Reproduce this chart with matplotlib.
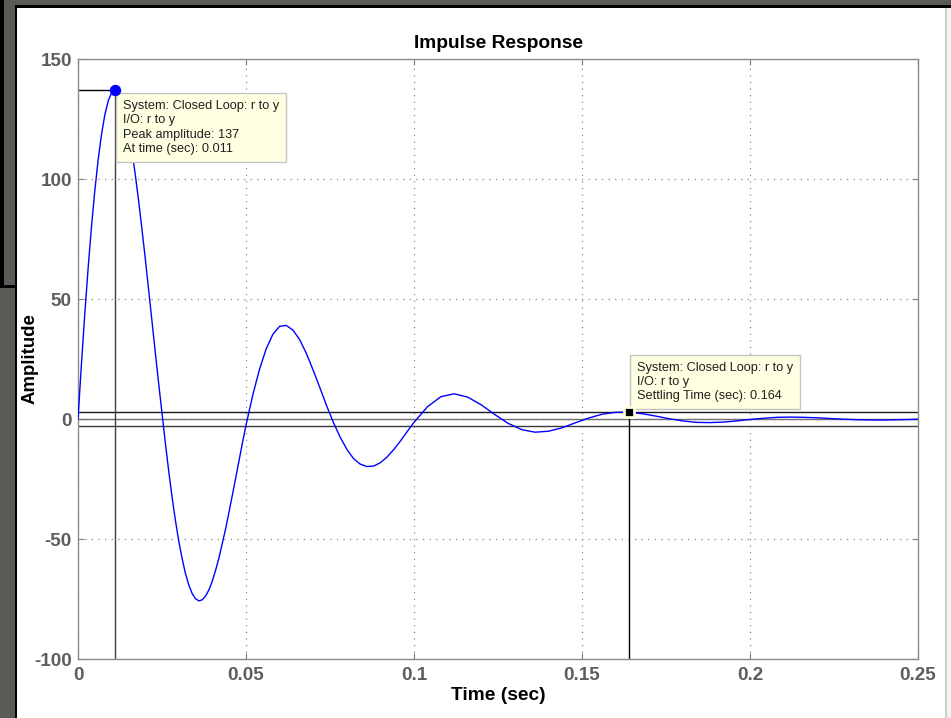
import matplotlib
matplotlib.use("Agg")

import matplotlib.pyplot as plt
from matplotlib.patches import Rectangle

plt.rcParams["font.family"] = ["Liberation Sans", "DejaVu Sans"]
plt.rcParams["axes.unicode_minus"] = False

# Impulse response of the closed loop r -> y
time_s = [
    0.000, 0.001, 0.002, 0.003, 0.004, 0.005, 0.006, 0.007, 0.008, 0.009,
    0.010, 0.011, 0.012, 0.013, 0.014, 0.015, 0.016, 0.017, 0.018, 0.019,
    0.020, 0.021, 0.022, 0.023, 0.024, 0.025, 0.026, 0.027, 0.028, 0.029,
    0.030, 0.031, 0.032, 0.033, 0.034, 0.035, 0.036, 0.037, 0.038, 0.039,
    0.040, 0.041, 0.042, 0.043, 0.044, 0.045, 0.046, 0.047, 0.048, 0.049,
    0.050, 0.052, 0.054, 0.056, 0.058, 0.060, 0.062, 0.064, 0.066, 0.068,
    0.070, 0.072, 0.074, 0.076, 0.078, 0.080, 0.082, 0.084, 0.086, 0.088,
    0.090, 0.092, 0.094, 0.096, 0.098, 0.100, 0.104, 0.108, 0.112, 0.116,
    0.120, 0.124, 0.128, 0.132, 0.136, 0.140, 0.144, 0.148, 0.152, 0.156,
    0.160, 0.164, 0.168, 0.172, 0.176, 0.180, 0.184, 0.188, 0.192, 0.196,
    0.200, 0.204, 0.208, 0.212, 0.216, 0.220, 0.224, 0.228, 0.232, 0.236,
    0.240, 0.244, 0.248, 0.250,
]
amplitude = [
    0.0, 22.4, 43.4, 62.6, 79.9, 95.1, 108.0, 118.6, 126.8, 132.6,
    135.9, 137.0, 135.9, 132.6, 127.5, 120.6, 112.1, 102.3, 91.4, 79.5,
    67.1, 54.1, 41.0, 27.8, 14.9, 2.4, -10.0, -21.7, -32.6, -42.3,
    -51.0, -58.2, -64.5, -69.2, -72.8, -74.9, -75.8, -75.3, -73.7, -71.1,
    -67.4, -62.8, -57.6, -51.5, -45.3, -38.4, -31.3, -24.1, -16.8, -9.5,
    -2.6, 9.9, 20.6, 29.2, 35.3, 38.6, 39.0, 37.0, 33.0, 27.2,
    20.3, 13.0, 5.5, -1.4, -7.5, -12.6, -16.5, -18.8, -19.8, -19.6,
    -18.2, -15.8, -12.7, -9.1, -5.2, -1.4, 5.1, 9.3, 10.5, 9.1,
    5.9, 1.9, -1.8, -4.4, -5.5, -5.1, -3.7, -1.6, 0.4, 2.0,
    2.8, 2.8, 2.2, 1.2, 0.1, -0.8, -1.4, -1.5, -1.3, -0.8,
    -0.2, 0.3, 0.7, 0.8, 0.7, 0.5, 0.2, -0.1, -0.3, -0.4,
    -0.4, -0.3, -0.2, -0.1,
]

peak_time = 0.011
peak_amp = 137
settle_time = 0.164
settle_band = 2.74  # 2% of peak

x_ticks = [0, 0.05, 0.1, 0.15, 0.2, 0.25]
x_tick_labels = ["0", "0.05", "0.1", "0.15", "0.2", "0.25"]
y_ticks = [-100, -50, 0, 50, 100, 150]

W, H = 951, 718
BG = "#5a5a56"
TIP_FACE = "#ffffe1"
TIP_EDGE = "#c4c4c4"
LABEL_GRAY = "#5e5e5e"

fig = plt.figure(figsize=(W / 100, H / 100), dpi=100, facecolor=BG)


def px_box(x0, y0, x1, y1, color):
    """Filled rectangle given in pixel coords measured from the top-left."""
    fig.add_artist(Rectangle((x0 / W, 1 - y1 / H), (x1 - x0) / W, (y1 - y0) / H,
                             transform=fig.transFigure, facecolor=color,
                             edgecolor="none", zorder=0))


# window frame around the figure
px_box(17, 8, W, H, "white")
px_box(15, 5, W, 8, "black")
px_box(15, 5, 17, H, "black")
px_box(0, 0, 4, 288, "black")
px_box(0, 285, 15, 288, "black")
px_box(945, 8, 947, H, "#cfcfcf")
px_box(947, 8, W, H, "#f2f2f2")

ax = fig.add_axes([78 / W, 1 - 659 / H, 840 / W, 600 / H])
ax.set_facecolor("white")

# settling band and steady-state level
ax.axhline(settle_band, color="#1a1a1a", lw=1, zorder=2)
ax.axhline(0, color="#707070", lw=1, zorder=2)
ax.axhline(-settle_band, color="#3a3a3a", lw=1, zorder=2)

ax.plot(time_s, amplitude, color="#0000ff", lw=1, zorder=3)

# peak marker with guide lines
ax.plot([0, peak_time], [peak_amp, peak_amp], color="black", lw=1, zorder=2)
ax.plot([peak_time, peak_time], [-100, peak_amp], color="#404040", lw=1, zorder=2)
ax.plot([peak_time], [peak_amp], "o", color="#0000ff", ms=7.2, zorder=7)

# settling time marker
ax.plot([settle_time, settle_time], [-100, settle_band], color="black", lw=1, zorder=2)
ax.plot([settle_time], [settle_band], "s", mfc="black", mec=TIP_FACE, ms=7.5,
        mew=2, zorder=7)

tip_style = dict(boxstyle="square,pad=0.55", fc=TIP_FACE, ec=TIP_EDGE, lw=1)
ax.annotate("System: Closed Loop: r to y\nI/O: r to y\n"
            f"Peak amplitude: {peak_amp}\nAt time (sec): {peak_time}",
            xy=(peak_time, peak_amp), xytext=(8, -10), textcoords="offset pixels",
            ha="left", va="top", fontsize=9.2, color="#202020", linespacing=1.24,
            bbox=tip_style, zorder=6)
ax.annotate("System: Closed Loop: r to y\nI/O: r to y\n"
            f"Settling Time (sec): {settle_time}",
            xy=(settle_time, settle_band), xytext=(8, 10), textcoords="offset pixels",
            ha="left", va="bottom", fontsize=9.2, color="#202020", linespacing=1.22,
            bbox=tip_style, zorder=6)

ax.set_xlim(0, 0.25)
ax.set_ylim(-100, 150)
ax.set_xticks(x_ticks)
ax.set_xticklabels(x_tick_labels)
ax.set_yticks(y_ticks)
ax.grid(True, linestyle=(0, (1, 4.3)), color="#8a8a8a", lw=0.9)
ax.set_axisbelow(True)

ax.tick_params(direction="in", length=4, top=True, right=True, color="#808080",
               labelcolor=LABEL_GRAY, labelsize=13.6)
ax.tick_params(axis="x", pad=5.5)
ax.tick_params(axis="y", pad=4.5)
for lab in ax.get_xticklabels() + ax.get_yticklabels():
    lab.set_fontweight("bold")
for sp in ax.spines.values():
    sp.set_color("#8c8c8c")
    sp.set_linewidth(1)

ax.set_title("Impulse Response", fontsize=13.8, fontweight="bold", pad=8)
ax.set_xlabel("Time (sec)", fontsize=13.8, fontweight="bold", va="center")
ax.set_ylabel("Amplitude", fontsize=13.4, fontweight="bold", va="center")
ax.xaxis.set_label_coords(0.5, (659 - 695) / 600)
ax.yaxis.set_label_coords((30 - 78) / 840, 0.5)

fig.savefig("out.png", dpi=100, facecolor=BG)
